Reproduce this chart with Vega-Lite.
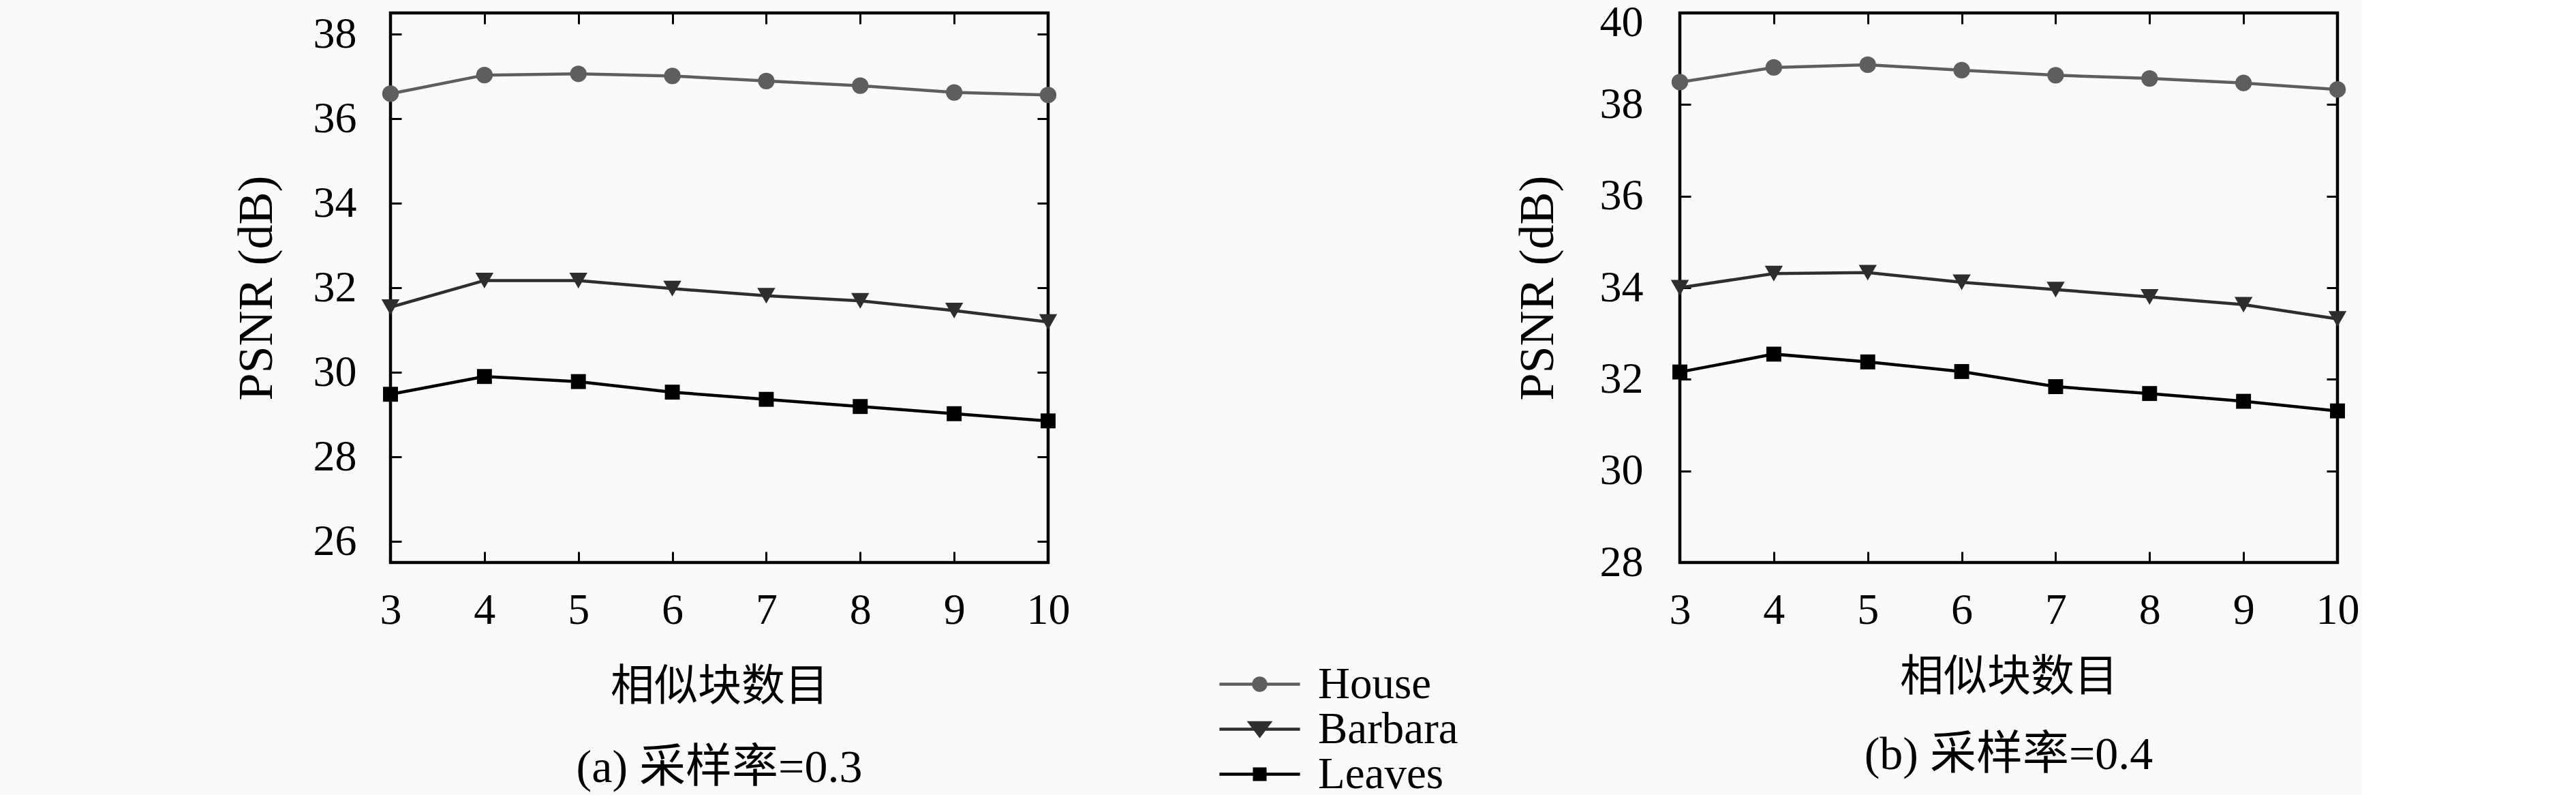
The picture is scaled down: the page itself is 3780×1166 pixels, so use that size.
{
  "$schema": "https://vega.github.io/schema/vega-lite/v6.json",
  "background": "#fafafa",
  "padding": {"left": 337, "top": -2, "right": 0, "bottom": 0},
  "bounds": "flush",
  "spacing": 927,
  "config": {
    "view": {"stroke": "black", "strokeWidth": 4.5},
    "axis": {
      "domain": false,
      "grid": false,
      "tickSize": -16,
      "tickWidth": 3,
      "tickColor": "black",
      "labelColor": "black",
      "labelFont": "Liberation Serif",
      "labelFontSize": 64,
      "labelFlush": false,
      "titleFont": "Liberation Serif, Noto Sans CJK SC",
      "titleFontSize": 64,
      "titleFontWeight": "normal",
      "titleColor": "black"
    },
    "title": {"font": "Liberation Serif, Noto Sans CJK SC", "fontSize": 68, "fontWeight": "normal", "color": "black", "orient": "bottom", "anchor": "middle", "frame": "group"}
  },
  "datasets": {
    "d": [
      {"panel": "a", "series": "House", "k": 3, "psnr": 36.59},
      {"panel": "a", "series": "House", "k": 4, "psnr": 37.03},
      {"panel": "a", "series": "House", "k": 5, "psnr": 37.06},
      {"panel": "a", "series": "House", "k": 6, "psnr": 37.01},
      {"panel": "a", "series": "House", "k": 7, "psnr": 36.89},
      {"panel": "a", "series": "House", "k": 8, "psnr": 36.78},
      {"panel": "a", "series": "House", "k": 9, "psnr": 36.62},
      {"panel": "a", "series": "House", "k": 10, "psnr": 36.56},
      {"panel": "a", "series": "Barbara", "k": 3, "psnr": 31.54},
      {"panel": "a", "series": "Barbara", "k": 4, "psnr": 32.17},
      {"panel": "a", "series": "Barbara", "k": 5, "psnr": 32.17},
      {"panel": "a", "series": "Barbara", "k": 6, "psnr": 31.98},
      {"panel": "a", "series": "Barbara", "k": 7, "psnr": 31.81},
      {"panel": "a", "series": "Barbara", "k": 8, "psnr": 31.69},
      {"panel": "a", "series": "Barbara", "k": 9, "psnr": 31.46},
      {"panel": "a", "series": "Barbara", "k": 10, "psnr": 31.19},
      {"panel": "a", "series": "Leaves", "k": 3, "psnr": 29.48},
      {"panel": "a", "series": "Leaves", "k": 4, "psnr": 29.9},
      {"panel": "a", "series": "Leaves", "k": 5, "psnr": 29.78},
      {"panel": "a", "series": "Leaves", "k": 6, "psnr": 29.53},
      {"panel": "a", "series": "Leaves", "k": 7, "psnr": 29.36},
      {"panel": "a", "series": "Leaves", "k": 8, "psnr": 29.19},
      {"panel": "a", "series": "Leaves", "k": 9, "psnr": 29.02},
      {"panel": "a", "series": "Leaves", "k": 10, "psnr": 28.85},
      {"panel": "b", "series": "House", "k": 3, "psnr": 38.49},
      {"panel": "b", "series": "House", "k": 4, "psnr": 38.81},
      {"panel": "b", "series": "House", "k": 5, "psnr": 38.87},
      {"panel": "b", "series": "House", "k": 6, "psnr": 38.75},
      {"panel": "b", "series": "House", "k": 7, "psnr": 38.64},
      {"panel": "b", "series": "House", "k": 8, "psnr": 38.57},
      {"panel": "b", "series": "House", "k": 9, "psnr": 38.47},
      {"panel": "b", "series": "House", "k": 10, "psnr": 38.33},
      {"panel": "b", "series": "Barbara", "k": 3, "psnr": 34.0},
      {"panel": "b", "series": "Barbara", "k": 4, "psnr": 34.31},
      {"panel": "b", "series": "Barbara", "k": 5, "psnr": 34.33},
      {"panel": "b", "series": "Barbara", "k": 6, "psnr": 34.12},
      {"panel": "b", "series": "Barbara", "k": 7, "psnr": 33.96},
      {"panel": "b", "series": "Barbara", "k": 8, "psnr": 33.8},
      {"panel": "b", "series": "Barbara", "k": 9, "psnr": 33.63},
      {"panel": "b", "series": "Barbara", "k": 10, "psnr": 33.32},
      {"panel": "b", "series": "Leaves", "k": 3, "psnr": 32.16},
      {"panel": "b", "series": "Leaves", "k": 4, "psnr": 32.55},
      {"panel": "b", "series": "Leaves", "k": 5, "psnr": 32.38},
      {"panel": "b", "series": "Leaves", "k": 6, "psnr": 32.17},
      {"panel": "b", "series": "Leaves", "k": 7, "psnr": 31.84},
      {"panel": "b", "series": "Leaves", "k": 8, "psnr": 31.69},
      {"panel": "b", "series": "Leaves", "k": 9, "psnr": 31.52},
      {"panel": "b", "series": "Leaves", "k": 10, "psnr": 31.31}
    ]
  },
  "hconcat": [
    {
      "width": 965,
      "height": 806,
      "title": {"text": "(a) 采样率=0.3", "offset": 54},
      "data": {"name": "d"},
      "transform": [{"filter": "datum.panel == 'a'"}],
      "layer": [
        {
          "mark": {"type": "line", "strokeWidth": 4.5},
          "encoding": {
            "x": {"field": "k", "type": "quantitative", "scale": {"domain": [3, 10], "nice": false},
                  "axis": {"values": [3, 4, 5, 6, 7, 8, 9, 10], "title": "相似块数目", "titlePadding": 48, "labelPadding": 54, "labelFont": "Liberation Serif", "labelFlush": false}},
            "y": {"field": "psnr", "type": "quantitative", "scale": {"domain": [25.5, 38.5], "nice": false, "zero": false},
                  "axis": {"values": [26, 28, 30, 32, 34, 36, 38], "title": "PSNR (dB)", "titleFontSize": 72, "titlePadding": 46, "labelPadding": 66, "labelFont": "Liberation Serif"}},
            "color": {"field": "series", "type": "nominal",
                      "scale": {"domain": ["House", "Barbara", "Leaves"], "range": ["#5e5e5e", "#2e2e2e", "#000000"]},
                      "legend": {
                        "title": null, "orient": "none", "legendX": 1243, "legendY": 952, "direction": "vertical",
                        "padding": 0, "rowPadding": 0, "labelLimit": 600,
                        "symbolSize": 3600, "symbolStrokeWidth": 4.5,
                        "labelFont": "Liberation Serif", "labelFontSize": 65, "labelColor": "black", "labelOffset": 53,
                        "encode": {"symbols": {"update": {
                          "shape": {"signal": "datum.value == 'House' ? 'M-1.97,0H1.97M0.3,0A0.3,0.3,0,1,1,-0.3,0A0.3,0.3,0,1,1,0.3,0Z' : datum.value == 'Barbara' ? 'M-1.97,0H1.97M-0.48,-0.32L0.48,-0.32L0,0.32Z' : 'M-1.97,0H1.97M-0.26,-0.26H0.26V0.26H-0.26Z'"},
                          "fill": {"scale": "color", "field": "value"},
                          "stroke": {"scale": "color", "field": "value"},
                          "size": {"value": 3600},
                          "strokeWidth": {"value": 4.5},
                          "opacity": {"value": 1}
                        }}}
                      }},
            "detail": {"field": "series"}
          }
        },
        {
          "mark": {"type": "point", "filled": true, "opacity": 1},
          "encoding": {
            "x": {"field": "k", "type": "quantitative", "axis": null},
            "y": {"field": "psnr", "type": "quantitative", "axis": null},
            "color": {"field": "series", "type": "nominal"},
            "shape": {"field": "series", "type": "nominal", "scale": {"range": ["triangle-down", "circle", "square"]}, "legend": null},
            "size": {"field": "series", "type": "ordinal", "scale": {"range": [700, 480, 420]}, "legend": null}
          }
        },
        {
          "mark": {"type": "point", "opacity": 0},
          "encoding": {
            "x": {"field": "k", "type": "quantitative", "axis": {"orient": "top", "labels": false, "title": null, "values": [3, 4, 5, 6, 7, 8, 9, 10]}},
            "y": {"field": "psnr", "type": "quantitative", "axis": {"orient": "right", "labels": false, "title": null, "values": [26, 28, 30, 32, 34, 36, 38]}}
          }
        }
      ],
      "resolve": {"axis": {"x": "independent", "y": "independent"}}
    },
    {
      "width": 965,
      "height": 806,
      "title": {"text": "(b) 采样率=0.4", "offset": 49},
      "data": {"name": "d"},
      "transform": [{"filter": "datum.panel == 'b'"}],
      "layer": [
        {
          "mark": {"type": "line", "strokeWidth": 4.5},
          "encoding": {
            "x": {"field": "k", "type": "quantitative", "scale": {"domain": [3, 10], "nice": false},
                  "axis": {"values": [3, 4, 5, 6, 7, 8, 9, 10], "title": "相似块数目", "titlePadding": 34, "labelPadding": 54, "labelFont": "Liberation Serif", "labelFlush": false}},
            "y": {"field": "psnr", "type": "quantitative", "scale": {"domain": [28, 40], "nice": false, "zero": false},
                  "axis": {"values": [28, 30, 32, 34, 36, 38, 40], "title": "PSNR (dB)", "titleFontSize": 72, "titlePadding": 54, "labelPadding": 70, "labelFont": "Liberation Serif",
                           "labelOffset": {"condition": {"test": "datum.value == 40", "value": 14}, "value": 0}}},
            "color": {"field": "series", "type": "nominal"},
            "detail": {"field": "series"}
          }
        },
        {
          "mark": {"type": "point", "filled": true, "opacity": 1},
          "encoding": {
            "x": {"field": "k", "type": "quantitative", "axis": null},
            "y": {"field": "psnr", "type": "quantitative", "axis": null},
            "color": {"field": "series", "type": "nominal"},
            "shape": {"field": "series", "type": "nominal", "legend": null},
            "size": {"field": "series", "type": "ordinal", "legend": null}
          }
        },
        {
          "mark": {"type": "point", "opacity": 0},
          "encoding": {
            "x": {"field": "k", "type": "quantitative", "axis": {"orient": "top", "labels": false, "title": null, "values": [3, 4, 5, 6, 7, 8, 9, 10]}},
            "y": {"field": "psnr", "type": "quantitative", "axis": {"orient": "right", "labels": false, "title": null, "values": [28, 30, 32, 34, 36, 38, 40]}}
          }
        }
      ],
      "resolve": {"axis": {"x": "independent", "y": "independent"}}
    }
  ],
  "resolve": {"scale": {"color": "shared", "shape": "shared", "size": "shared"}, "legend": {"color": "shared"}}
}
